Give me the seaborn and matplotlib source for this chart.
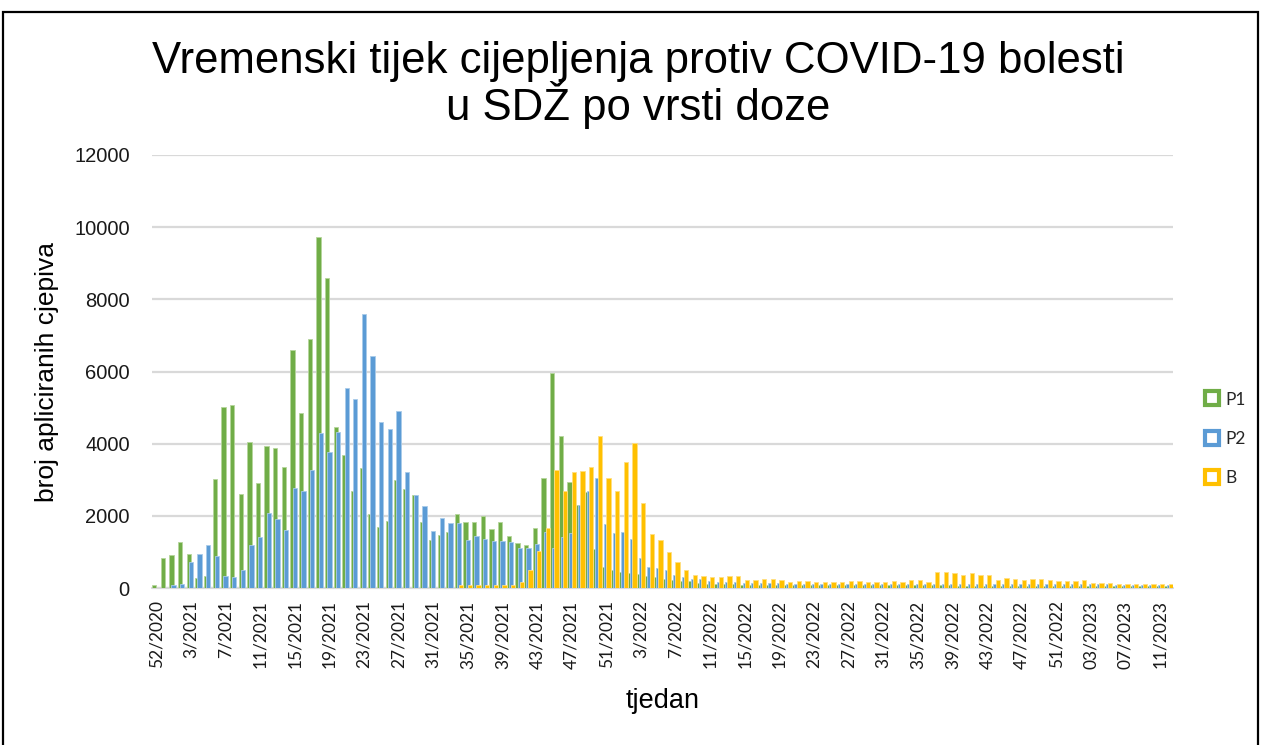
import matplotlib
matplotlib.use("Agg")
import numpy as np
import pandas as pd
import matplotlib.pyplot as plt
import seaborn as sns
from matplotlib.lines import Line2D
from matplotlib.patches import Rectangle

sns.set_style("white")
plt.rcParams['font.family'] = ['Liberation Sans', 'DejaVu Sans']

# week categories 52/2020 .. 12/2023
weeks = (["52/2020", "53/2020"]
         + [f"{w}/2021" for w in range(1, 53)]
         + [f"{w}/2022" for w in range(1, 53)]
         + [f"{w:02d}/2023" for w in range(1, 13)])

p1 = [90, 830, 925, 1270, 950, 280, 340, 3010, 5030, 5080,
      2610, 4050, 2920, 3930, 3870, 3350, 6590, 4840, 6900, 9740,
      8580, 4470, 3680, 2680, 3320, 2040, 1690, 1850, 2980, 2730,
      2580, 1820, 1340, 1480, 1540, 2050, 1840, 1840, 2000, 1630,
      1840, 1450, 1240, 1180, 1670, 3040, 5960, 4210, 2950, 2300,
      2650, 1090, 570, 500, 450, 420, 380, 330, 310, 260,
      220, 200, 184, 140, 120, 110, 110, 100, 95, 90,
      90, 90, 85, 85, 85, 80, 80, 80, 80, 80,
      75, 75, 70, 70, 70, 70, 70, 70, 70, 70,
      70, 70, 70, 65, 65, 65, 65, 65, 65, 65,
      60, 60, 60, 60, 60, 60, 60, 60, 60, 60,
      60, 60, 55, 55, 55, 55, 55, 55]

p2 = [0, 0, 90, 100, 710, 930, 1200, 900, 340, 300,
      490, 1180, 1420, 2070, 1900, 1620, 2760, 2700, 3260, 4290,
      3770, 4320, 5530, 5250, 7600, 6440, 4600, 4420, 4900, 3220,
      2580, 2260, 1570, 1935, 1810, 1810, 1340, 1430, 1360, 1300,
      1300, 1275, 1120, 1120, 1230, 1550, 1100, 1400, 1520, 2290,
      2680, 3040, 1770, 1530, 1550, 1370, 820, 575, 545, 490,
      360, 295, 245, 245, 185, 155, 155, 155, 125, 125,
      125, 125, 125, 120, 120, 120, 120, 120, 120, 120,
      115, 115, 115, 115, 110, 110, 110, 110, 110, 110,
      110, 110, 110, 110, 110, 110, 110, 110, 110, 110,
      110, 110, 110, 105, 105, 105, 105, 105, 100, 100,
      100, 95, 95, 95, 95, 95, 95, 95]

b = [0, 0, 0, 0, 0, 0, 0, 0, 0, 0,
     0, 0, 0, 0, 0, 0, 0, 0, 0, 0,
     0, 0, 0, 0, 0, 0, 0, 0, 0, 0,
     0, 0, 0, 0, 0, 80, 80, 80, 80, 80,
     80, 80, 160, 510, 1030, 1660, 3270, 2680, 3210, 3250,
     3340, 4200, 3040, 2700, 3500, 4010, 2365, 1485, 1335, 1000,
     730, 490, 360, 330, 313, 313, 340, 340, 221, 221,
     248, 248, 221, 156, 193, 193, 166, 166, 166, 166,
     193, 193, 166, 166, 160, 190, 157, 232, 232, 157,
     444, 444, 407, 352, 407, 352, 352, 232, 287, 259,
     232, 259, 259, 222, 185, 185, 185, 222, 139, 139,
     139, 102, 102, 102, 102, 102, 102, 102]

series = ["P1", "P2", "B"]
colors = {"P1": "#70AD47", "P2": "#5B9BD5", "B": "#FFC000"}
edges = {"P1": "#B5D69C", "P2": "#A9CBEA", "B": "#FFDE80"}
offsets = {"P1": -0.25, "P2": 0.0, "B": 0.25}

df = pd.DataFrame({"tjedan": weeks, "P1": p1, "P2": p2, "B": b})
df["pos"] = np.arange(len(df))

fig = plt.figure(figsize=(12.62, 7.45), dpi=100)
ax = fig.add_axes([152 / 1262, 1 - 588 / 745, 1021 / 1262, 433 / 745])

for s in series:
    sub = df[df[s] > 0]
    sns.barplot(x=sub["pos"] + offsets[s], y=sub[s], native_scale=True,
                width=0.5, color=colors[s], saturation=1, errorbar=None,
                edgecolor=edges[s], linewidth=0.6, ax=ax)

ax.set_xlim(-0.5, len(df) - 0.5)
ax.set_ylim(0, 12000)
ax.set_yticks(range(0, 12001, 2000))
ax.set_yticklabels([str(v) for v in range(0, 12001, 2000)], fontsize=14.5, color="#1a1a1a")
ax.set_xticks(df["pos"][::4])
ax.set_xticklabels(df["tjedan"][::4], rotation=90, fontsize=12.5,
                   family=["Lato", "DejaVu Sans"], color="#1a1a1a")
ax.tick_params(axis="both", length=0)
ax.tick_params(axis="y", pad=16)
ax.tick_params(axis="x", pad=9)

ax.yaxis.grid(True, color="#d9d9d9", linewidth=1.6)
ax.set_axisbelow(True)
ax.axhline(0, color="#d9d9d9", linewidth=1.6, zorder=0.5, clip_on=False)
for sp in ax.spines.values():
    sp.set_visible(False)

ax.set_ylabel("broj apliciranih cjepiva", fontsize=19, labelpad=11, color="black")
ax.set_xlabel("tjedan", fontsize=19.5, labelpad=14, color="black")

fig.text(638 / 1262, 1 - 85 / 745,
         "Vremenski tijek cijepljenja protiv COVID-19 bolesti\nu SDŽ po vrsti doze",
         ha="center", va="center", fontsize=31.5, linespacing=0.95, color="black")

handles = [Line2D([], [], marker="s", linestyle="none", markersize=10,
                  markerfacecolor="white", markeredgecolor=colors[s],
                  markeredgewidth=3) for s in series]
fig.legend(handles, series, loc="center left",
           bbox_to_anchor=(1189 / 1262, 1 - 439 / 745), frameon=False,
           prop={"family": ["Lato", "DejaVu Sans"], "size": 12.5},
           labelspacing=1.35, handlelength=0.9, handletextpad=0.3)

fig.add_artist(Rectangle((3 / 1262, -0.01), 1255 / 1262, (745 - 12) / 745 + 0.01,
                         transform=fig.transFigure, fill=False,
                         edgecolor="black", linewidth=1.6))

fig.savefig("out.png", dpi=100)
